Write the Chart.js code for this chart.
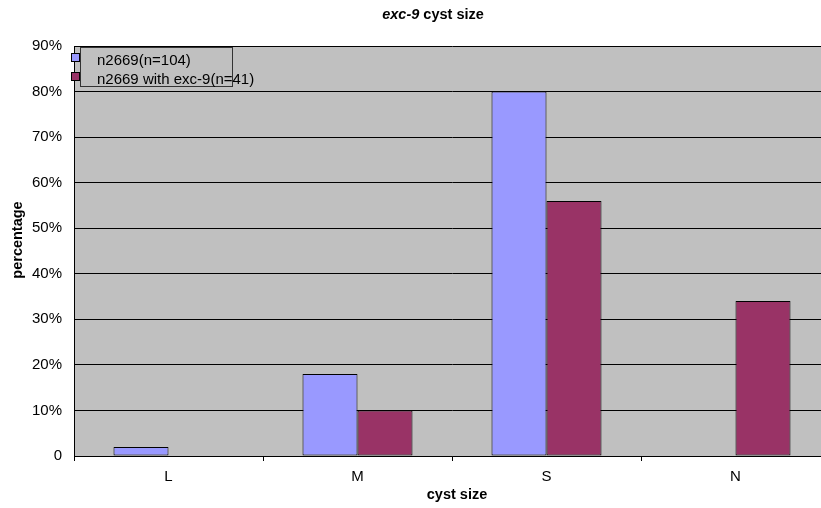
<!DOCTYPE html>
<html>
<head>
<meta charset="utf-8">
<script src="https://cdn.jsdelivr.net/npm/chart.js@4.4.1/dist/chart.umd.min.js"></script>
<style>
  html, body { margin: 0; padding: 0; background: #fff; overflow: hidden; }
  #wrap { position: relative; width: 840px; height: 508px; }
</style>
</head>
<body>
<div id="wrap"><canvas id="chart"></canvas></div>
<script>
// cyst size categories and percentages per strain
const categories = ['L', 'M', 'S', 'N'];
const seriesNames = ['n2669(n=104)', 'n2669 with exc-9(n=41)'];
const n2669 = [2, 18, 80, 0];
const n2669Exc9 = [0, 10, 56, 34];
const yTicks = [0, 10, 20, 30, 40, 50, 60, 70, 80, 90];

const FONT = '"Liberation Sans", Arial, sans-serif';
const BLUE = '#9999FF';
const PLUM = '#993366';

// gray plot background
const plotBg = {
  id: 'plotBg',
  beforeDraw(chart) {
    const { ctx, chartArea: a } = chart;
    ctx.save();
    ctx.fillStyle = '#C0C0C0';
    ctx.fillRect(a.left, a.top, a.right - a.left, a.bottom - a.top);
    ctx.restore();
  }
};

// titles and the boxed legend
const decorations = {
  id: 'decorations',
  afterDraw(chart) {
    const { ctx } = chart;
    ctx.save();
    ctx.fillStyle = '#000';
    ctx.textBaseline = 'middle';

    // chart title: italic gene name followed by plain bold text
    const t1 = 'exc-9';
    const t2 = ' cyst size';
    ctx.font = 'italic bold 14.5px ' + FONT;
    const w1 = ctx.measureText(t1).width;
    ctx.font = 'bold 14.5px ' + FONT;
    const w2 = ctx.measureText(t2).width;
    let x = 433 - (w1 + w2) / 2;
    ctx.textAlign = 'left';
    ctx.font = 'italic bold 14.5px ' + FONT;
    ctx.fillText(t1, x, 15);
    ctx.font = 'bold 14.5px ' + FONT;
    ctx.fillText(t2, x + w1, 15);

    // axis titles
    ctx.textAlign = 'center';
    ctx.fillText('cyst size', 457, 495);
    ctx.save();
    ctx.translate(18, 240);
    ctx.rotate(-Math.PI / 2);
    ctx.fillText('percentage', 0, 0);
    ctx.restore();

    // legend box
    ctx.fillStyle = '#C0C0C0';
    ctx.fillRect(80.5, 47.5, 152, 39);
    ctx.strokeStyle = '#333';
    ctx.lineWidth = 1;
    ctx.strokeRect(80.5, 47.5, 152, 39);

    const colors = [BLUE, PLUM];
    const rows = [58, 77];
    ctx.textAlign = 'left';
    ctx.font = '15px ' + FONT;
    for (let i = 0; i < seriesNames.length; i++) {
      ctx.fillStyle = colors[i];
      ctx.fillRect(71.5, rows[i] - 4.5, 8, 8);
      ctx.strokeStyle = '#000';
      ctx.strokeRect(71.5, rows[i] - 4.5, 8, 8);
      ctx.fillStyle = '#000';
      ctx.fillText(seriesNames[i], 97, rows[i] + 3);
    }
    ctx.restore();
  }
};

new Chart(document.getElementById('chart'), {
  type: 'bar',
  data: {
    labels: categories,
    datasets: [
      { label: seriesNames[0], data: n2669, backgroundColor: BLUE, borderColor: '#000', borderWidth: 1, borderSkipped: false },
      { label: seriesNames[1], data: n2669Exc9, backgroundColor: PLUM, borderColor: '#000', borderWidth: 1, borderSkipped: false }
    ]
  },
  options: {
    responsive: true,
    maintainAspectRatio: false,
    animation: false,
    layout: { padding: { left: 0, top: 46, right: 10, bottom: 0 } },
    datasets: { bar: { categoryPercentage: 0.582, barPercentage: 1.0 } },
    plugins: {
      legend: { display: false },
      title: { display: false },
      tooltip: { enabled: false }
    },
    scales: {
      x: {
        offset: true,
        grid: { offset: true, drawOnChartArea: false, tickLength: 5, color: '#000', lineWidth: 1 },
        border: { color: '#000', width: 1 },
        ticks: { color: '#000', font: { family: FONT, size: 15 }, padding: 7 },
        afterFit(s) { s.height = 52; }
      },
      y: {
        min: 0,
        max: 90,
        afterBuildTicks(s) { s.ticks = yTicks.map(v => ({ value: v })); },
        grid: { color: '#000', lineWidth: 1, drawTicks: false },
        border: { color: '#000', width: 1 },
        ticks: {
          color: '#000',
          font: { family: FONT, size: 15 },
          padding: 12,
          callback: v => (v === 0 ? '0' : v + '%')
        },
        afterFit(s) { s.width = 74; }
      }
    }
  },
  plugins: [plotBg, decorations]
});
</script>
</body>
</html>
